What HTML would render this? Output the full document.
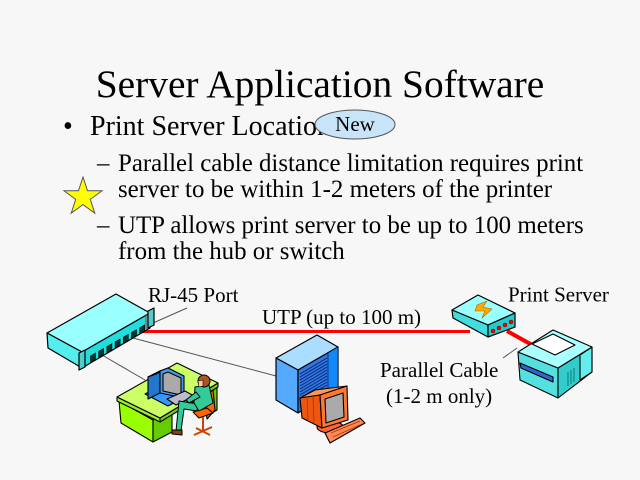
<!DOCTYPE html>
<html><head><meta charset="utf-8"><style>
html,body{margin:0;padding:0;background:#f7f7f7;}
svg{display:block;}
text{font-family:"Liberation Serif","DejaVu Serif",serif;fill:#000;}
</style></head><body>
<svg width="640" height="480" viewBox="0 0 640 480" xmlns="http://www.w3.org/2000/svg">
<rect width="640" height="480" fill="#f7f7f7"/>
<text x="320" y="97" font-size="39.4" text-anchor="middle">Server Application Software</text>
<text x="63" y="135" font-size="28">•</text>
<text x="90" y="135" font-size="28">Print Server Location</text>
<ellipse cx="355" cy="124.5" rx="40" ry="14.5" fill="#c8e4f8" stroke="#555" stroke-width="1"/>
<text x="355" y="131" font-size="21" text-anchor="middle">New</text>
<polygon points="83,177 87.5,190.8 102,190.8 90.3,199.4 94.8,213.2 83,204.6 71.2,213.2 75.7,199.4 64,190.8 78.5,190.8" fill="#ffff00" stroke="#555" stroke-width="1"/>
<g font-size="24.9">
<text x="97" y="171">–</text>
<text x="118" y="171">Parallel cable distance limitation requires print</text>
<text x="118" y="197">server to be within 1-2 meters of the printer</text>
<text x="97" y="233">–</text>
<text x="118" y="233">UTP allows print server to be up to 100 meters</text>
<text x="118" y="259">from the hub or switch</text>
</g>
<!-- leader/cable lines -->
<g stroke="#555" stroke-width="1" fill="none">
<line x1="187" y1="308" x2="153" y2="323"/>
<line x1="102" y1="355" x2="145" y2="380"/>
<line x1="133" y1="338" x2="276" y2="376"/>
<line x1="503" y1="358" x2="517" y2="348"/>
</g>
<line x1="140" y1="331.5" x2="470" y2="331.5" stroke="#ff0000" stroke-width="3"/>
<line x1="507" y1="331" x2="534" y2="346" stroke="#ff0000" stroke-width="4"/>
<!-- hub -->
<g stroke="#000" stroke-width="1.2" stroke-linejoin="round">
<polygon points="47,333 116,294 150,313 82,352" fill="#99ffff"/>
<polygon points="47,333 82,352 82,368 48,348" fill="#55eeee"/>
<polygon points="82,352 150,313 150,328 82,368" fill="#22dddd"/>
<polygon points="79,353 85,350 85,367 79,370" fill="#55cccc"/>
<polygon points="148,311 154,308 154,325 148,328" fill="#55cccc"/>
</g>
<g fill="#003838" stroke="#000" stroke-width="0.6">
<polygon points="90.5,356 95.5,353 95.5,359 90.5,362"/>
<polygon points="98.7,351.3 103.7,348.4 103.7,354.4 98.7,357.3"/>
<polygon points="106.9,346.6 111.9,343.7 111.9,349.7 106.9,352.6"/>
<polygon points="115.1,341.9 120.1,339 120.1,345 115.1,347.9"/>
<polygon points="123.3,337.2 128.3,334.3 128.3,340.3 123.3,343.2"/>
<polygon points="131.5,332.5 136.5,329.6 136.5,335.6 131.5,338.5"/>
<polygon points="139.7,327.8 144.7,324.9 144.7,330.9 139.7,333.8"/>
</g>
<line x1="146" y1="314" x2="146" y2="329" stroke="#cc3333" stroke-width="1"/>
<!-- desk -->
<g stroke="#000" stroke-width="1.1" stroke-linejoin="round">
<polygon points="119,401 153,420 153,442 121,423" fill="#99ff00"/>
<polygon points="153,420 172,410 172,432 153,442" fill="#66cc00"/>
<polygon points="212,388 217,385 217,410 212,413" fill="#66cc00"/>
<polygon points="117,397 160,418 160,422 117,401" fill="#99ee33"/>
<polygon points="160,418 218,383 218,387 160,422" fill="#77cc22"/>
<polygon points="117,397 177,363 218,383 160,418" fill="#ccff66"/>
<!-- monitor -->
<polygon points="145,394 160,386 183,398 168,406" fill="#3399ff"/>
<polygon points="148,377 160,371 160,393 148,399" fill="#2277cc"/>
<polygon points="148,377 160,371 168,368 156,374" fill="#66bbff"/>
<polygon points="160,371 168,368 184,376 184,398 160,393" fill="#4499ee"/>
<polygon points="163,374 168,372 181,378 181,395 163,391" fill="#aaaaaa"/>
<polygon points="167,399 185,391 194,396 176,405" fill="#bbbbcc"/>
<!-- chair -->
<polygon points="204,397 213,390 215,410 207,419" fill="#ff6600"/>
<polygon points="193,412 207,408 213,413 199,418" fill="#ff6600"/>
</g>
<g stroke="#cc4400" stroke-width="2" fill="none">
<line x1="203" y1="417" x2="203" y2="430"/>
<line x1="194" y1="435" x2="212" y2="427"/>
<line x1="196" y1="428" x2="210" y2="435"/>
</g>
<!-- person -->
<g stroke="#000" stroke-width="1" stroke-linejoin="round">
<polygon points="179,401 198,404 197,411 184,409 181,431 176,431" fill="#33cc99"/>
<polygon points="195,387 209,385 213,403 199,411 194,403" fill="#33cc99"/>
<polygon points="196,392 186,400 189,403 200,397" fill="#33cc99"/>
<polygon points="172,430 182,430 182,435 172,434" fill="#884400"/>
<circle cx="204" cy="381" r="6" fill="#aa5522"/>
<polygon points="198,381 203,380 203,386 199,387" fill="#ffcc99" stroke-width="0.6"/>
</g>
<!-- server tower -->
<g stroke="#000" stroke-width="1.2" stroke-linejoin="round">
<polygon points="276,358 317,335 338,347 298,370" fill="#aaddff"/>
<polygon points="276,358 298,370 298,413 276,400" fill="#55aaff"/>
<polygon points="298,370 338,347 338,390 298,413" fill="#3377dd"/>
<polygon points="328,353 338,347 338,390 328,396" fill="#1188ff" stroke-width="0.6"/>
</g>
<g stroke="#002277" stroke-width="0.8">
<line x1="300" y1="374" x2="327" y2="358"/><line x1="300" y1="377" x2="327" y2="361"/>
<line x1="300" y1="380" x2="327" y2="364"/><line x1="300" y1="383" x2="327" y2="367"/>
<line x1="300" y1="386" x2="327" y2="370"/><line x1="300" y1="389" x2="327" y2="373"/>
<line x1="300" y1="392" x2="327" y2="376"/><line x1="300" y1="395" x2="327" y2="379"/>
<line x1="300" y1="398" x2="327" y2="382"/><line x1="300" y1="401" x2="327" y2="385"/>
<line x1="300" y1="404" x2="327" y2="388"/><line x1="300" y1="407" x2="327" y2="391"/>
</g>
<!-- orange monitor -->
<g stroke="#000" stroke-width="1.1" stroke-linejoin="round">
<ellipse cx="330" cy="427" rx="13" ry="6" fill="#ff6633"/>
<polygon points="300,398 315,390 347,386 320,395" fill="#ff9955"/>
<polygon points="300,398 320,395 322,428 302,418" fill="#ee5511"/>
<polygon points="320,395 347,386 348,420 322,428" fill="#ff7733"/>
<polygon points="325,399 343,393 344,417 326,423" fill="#aaaaaa"/>
<polygon points="325,433 360,418 365,423 330,443" fill="#ff8855"/>
</g>
<g stroke="#aa3300" stroke-width="0.8">
<line x1="307" y1="396" x2="308" y2="421"/><line x1="313" y1="395" x2="314" y2="424"/>
<line x1="331" y1="433" x2="360" y2="421"/><line x1="333" y1="437" x2="362" y2="424"/>
</g>
<!-- print server -->
<g stroke="#000" stroke-width="1.2" stroke-linejoin="round">
<polygon points="452,310 478,295 515,313 488,325" fill="#99ffff"/>
<polygon points="452,310 488,325 488,337 453,318" fill="#44dddd"/>
<polygon points="488,325 515,313 515,327 488,337" fill="#22cccc"/>
<polygon points="477,305 487,301 483,307 492,309 482,318 485,311 475,311" fill="#ffaa00" stroke="#aa6600" stroke-width="0.6"/>
</g>
<g fill="#ff0000" stroke="#660000" stroke-width="0.5">
<circle cx="493" cy="331" r="2"/><circle cx="499" cy="328" r="2"/>
<circle cx="505" cy="325" r="2"/><circle cx="511" cy="322" r="2"/>
</g>
<!-- printer -->
<g stroke="#000" stroke-width="1.1" stroke-linejoin="round">
<polygon points="518,352 558,368 558,398 520,380" fill="#55e0e0"/>
<polygon points="558,368 592,347 592,372 558,398" fill="#33cccc"/>
<polygon points="580,355 592,347 592,372 580,380" fill="#66eeee"/>
<polygon points="518,352 553,330 592,347 558,368" fill="#aaffff"/>
<polygon points="532,344 553,334 575,345 555,355" fill="#ffffff"/>
<polygon points="520,363 553,377 553,382 521,368" fill="#3366cc"/>
</g>
<g stroke="#006666" stroke-width="0.8">
<line x1="568" y1="372" x2="568" y2="386"/><line x1="571" y1="370" x2="571" y2="384"/>
<line x1="574" y1="368" x2="574" y2="382"/>
</g>
<!-- labels -->
<g font-size="21">
<text x="148" y="302">RJ-45 Port</text>
<text x="262" y="324">UTP (up to 100 m)</text>
<text x="508" y="301.5">Print Server</text>
<text x="380" y="377">Parallel Cable</text>
<text x="386" y="403">(1-2 m only)</text>
</g>
</svg>
</body></html>
